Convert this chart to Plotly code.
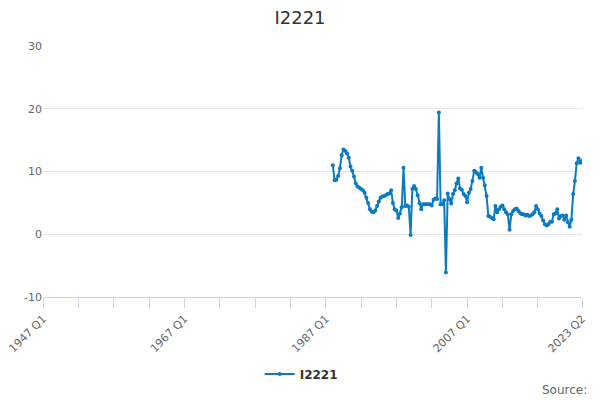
import plotly.graph_objects as go

LINE_BLUE = "#0b7bc1"
GRID_GRAY = "#e6e6e6"
AXIS_BLUE = "#ccd6eb"
TEXT_DARK = "#333333"
TEXT_GRAY = "#666666"

# quarterly category axis, 1947 Q1 .. 2023 Q2
QUARTERS = [f"{y} Q{q}" for y in range(1947, 2024) for q in range(1, 5)][:306]

SERIES_NAME = "I2221"
SERIES_START = "1988 Q1"
SERIES_VALUES = [
    11.0, 8.6, 8.7, 9.3, 10.5, 12.6, 13.5, 13.3, 12.9, 12.2,
    10.8, 10.1, 9.2, 8.1, 7.6, 7.4, 7.2, 7.0, 6.6, 5.8,
    5.0, 4.0, 3.6, 3.5, 3.8, 4.5, 5.2, 5.8, 6.0, 6.1,
    6.2, 6.4, 6.5, 7.0, 5.0, 4.0, 3.8, 2.6, 3.3, 4.3,
    10.6, 4.5, 4.6, 4.4, -0.1, 7.2, 7.7, 7.2, 6.2, 5.0,
    4.0, 4.8, 4.8, 4.8, 4.8, 4.8, 4.6, 5.5, 5.7, 5.6,
    19.4, 4.8, 4.8, 5.4, -6.1, 6.5, 5.6, 4.9, 6.4, 7.0,
    8.1, 8.9, 7.3, 7.1, 6.4, 6.1, 5.1, 6.6, 7.2, 8.5,
    10.1, 9.9, 9.6, 9.0, 10.6, 9.0, 7.8, 6.1, 2.9, 2.8,
    2.6, 2.4, 4.5, 3.5, 4.0, 4.4, 4.6, 4.0, 3.5, 3.2,
    0.7, 3.2, 3.7, 4.0, 4.1, 3.7, 3.4, 3.2, 3.2, 3.0,
    3.1, 2.9, 3.0, 3.2, 3.5, 4.5, 4.0, 3.3, 2.9, 2.2,
    1.6, 1.4, 1.6, 2.0, 2.0, 3.2, 3.3, 4.0, 2.5, 2.9,
    3.0, 2.3, 3.0, 1.9, 1.2, 2.3, 6.4, 8.5, 11.3, 12.1,
    11.4, 11.7,
]

TICK_QUARTERS = [QUARTERS[i] for i in range(0, 300, 20)] + ["2023 Q2"]
LABELLED = ["1947 Q1", "1967 Q1", "1987 Q1", "2007 Q1", "2023 Q2"]
TICK_TEXT = [q if q in LABELLED else "" for q in TICK_QUARTERS]

Y_TICKS = [-10, 0, 10, 20, 30]
Y_TICK_TEXT = ["-10", "0", "10", "20", "30"]

start = QUARTERS.index(SERIES_START)
x_vals = QUARTERS[start:start + len(SERIES_VALUES)]

fig = go.Figure()
fig.add_trace(
    go.Scatter(
        x=x_vals,
        y=SERIES_VALUES,
        name=f"<b>{SERIES_NAME}</b>",
        mode="lines+markers",
        line=dict(color=LINE_BLUE, width=2),
        marker=dict(color=LINE_BLUE, size=4),
    )
)

fig.update_layout(
    width=600,
    height=400,
    title=dict(
        text=SERIES_NAME,
        x=0.5,
        xanchor="center",
        y=0.955,
        yanchor="middle",
        font=dict(size=18, color=TEXT_DARK),
    ),
    font=dict(family="DejaVu Sans", color=TEXT_GRAY, size=11),
    xaxis=dict(
        type="category",
        categoryorder="array",
        categoryarray=QUARTERS,
        range=[0, 305],
        tickmode="array",
        tickvals=TICK_QUARTERS,
        ticktext=TICK_TEXT,
        tickangle=-45,
        ticks="outside",
        ticklen=10,
        tickcolor=AXIS_BLUE,
        showline=True,
        linecolor=AXIS_BLUE,
        showgrid=False,
        automargin=False,
        tickfont=dict(size=11, color=TEXT_GRAY),
    ),
    yaxis=dict(
        range=[-10, 30],
        tickmode="array",
        tickvals=Y_TICKS,
        ticktext=Y_TICK_TEXT,
        gridcolor=GRID_GRAY,
        zeroline=False,
        showline=False,
        ticks="",
        automargin=False,
        tickfont=dict(size=11, color=TEXT_GRAY),
    ),
    showlegend=True,
    legend=dict(
        orientation="h",
        x=0.479,
        xanchor="center",
        y=-0.307,
        yanchor="middle",
        itemwidth=30,
        font=dict(size=12, color=TEXT_DARK),
    ),
    annotations=[
        dict(
            text="Source:",
            x=1.013,
            y=-0.37,
            xref="paper",
            yref="paper",
            xanchor="right",
            yanchor="middle",
            showarrow=False,
            font=dict(size=12, color=TEXT_GRAY),
        )
    ],
    margin=dict(l=43, r=18, t=46, b=103, autoexpand=False),
    plot_bgcolor="white",
    paper_bgcolor="white",
)

# drop the browser's default body margin so the 600x400 figure sits at the page corner
fig.write_html(
    "out.html",
    config={"displayModeBar": False},
    post_script="document.body.style.margin = '0px';",
)
